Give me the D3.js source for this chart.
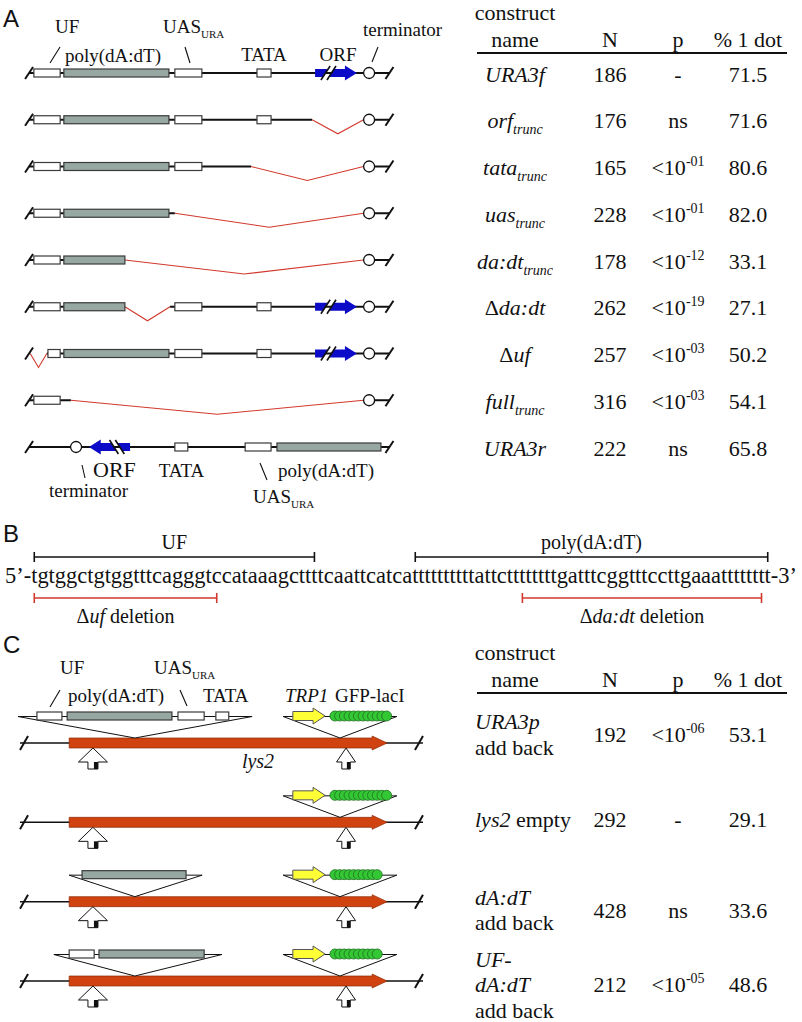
<!DOCTYPE html>
<html><head><meta charset="utf-8">
<script src="https://cdn.jsdelivr.net/npm/d3@7"></script>
<style>
body{margin:0;background:#fff}
svg{display:block}
text{font-family:"Liberation Serif","Times New Roman","DejaVu Serif",serif;fill:#111;white-space:pre}
</style>
</head><body>
<svg id="c" width="802" height="1022"></svg>
<script>
// ===================== DATA =====================
// Panel A table
const namesA = ["URA3f","orf_trunc","tata_trunc","uas_trunc","da:dt_trunc","Δda:dt","Δuf","full_trunc","URA3r"];
const nA     = [186,176,165,228,178,262,257,316,222];
const pA     = ["-","ns","<10^-01","<10^-01","<10^-12","<10^-19","<10^-03","<10^-03","ns"];
const dotA   = [71.5,71.6,80.6,82.0,33.1,27.1,50.2,54.1,65.8];
const colHeaders = ["N","p","% 1 dot"];

// Panel A locus map (0-100 map units along the URA3 locus)
const UF=[2.4,9.5], UF_SHORT=[6.2,9.5], POLY=[10.5,38.9], POLY_SHORT=[10.5,27.0];
const UAS=[40.5,47.8], TATA=[62.7,66.5], ORF=[78.4,89.7];
const TERM=93.0, TERM_IN=91.5, END_L=1.1, END_R=98.5;
const constructsA = [
  {lines:[[END_L,END_R]], dels:[], white:[UF,UAS], grey:[POLY], small:[TATA], orf:[[...ORF,1]], term:TERM},
  {lines:[[END_L,77.6],[TERM,END_R]], dels:[[77.6,TERM_IN]], white:[UF,UAS], grey:[POLY], small:[TATA], orf:[], term:TERM},
  {lines:[[END_L,61.1],[TERM,END_R]], dels:[[61.1,TERM_IN]], white:[UF,UAS], grey:[POLY], small:[], orf:[], term:TERM},
  {lines:[[END_L,40.5],[TERM,END_R]], dels:[[40.5,TERM_IN]], white:[UF], grey:[POLY], small:[], orf:[], term:TERM},
  {lines:[[END_L,27.0],[TERM,END_R]], dels:[[27.0,TERM_IN]], white:[UF], grey:[POLY_SHORT], small:[], orf:[], term:TERM},
  {lines:[[END_L,27.0],[39.2,END_R]], dels:[[27.0,39.2]], white:[UF,UAS], grey:[POLY_SHORT], small:[TATA], orf:[[...ORF,1]], term:TERM},
  {lines:[[5.9,END_R]], dels:[[1.4,5.9]], white:[UF_SHORT,UAS], grey:[POLY], small:[TATA], orf:[[...ORF,1]], term:TERM},
  {lines:[[END_L,12.4],[TERM,END_R]], dels:[[12.4,TERM_IN]], white:[UF], grey:[], small:[], orf:[], term:TERM},
  {lines:[[END_L,END_R]], dels:[], white:[[59.5,66.5]], grey:[[68.1,96.2]], small:[[40.5,44.0]], orf:[[17.3,28.4,-1]], term:13.8}
];

// Panel B
const SEQ = "tgtggctgtggtttcagggtccataaagcttttcaattcatcattttttttttattcttttttttgatttcggtttccttgaaatttttttt";
const seqBrackets = [ {label:"UF", span:[0,31]}, {label:"poly(dA:dT)", span:[43,SEQ.length-1]} ];
const seqDeletions = [ {label:[["Δ",0],["uf",1],[" deletion",0]], span:[0,20]},
                       {label:[["Δ",0],["da:dt",1],[" deletion",0]], span:[59,SEQ.length-2]} ];

// Panel C table
const namesC = ["*URA3p*|add back","*lys2* empty","*dA:dT*|add back","*UF-*|*dA:dT*|add back"];
const nC   = [192,292,428,212];
const pC   = ["<10^-06","-","ns","<10^-05"];
const dotC = [53.1,29.1,33.6,48.6];

// Panel C locus map (0-100 map units along lys2)
const LYS2=[12.2,91.1], SITE_PROM=28.5, SITE_REP=79.4, PROBES=[18.1,80.9];
const insertsC = [
  {tri:[-0.5,57.6], white:[[4.2,10.4],[39.2,45.7]], grey:[[11.7,37.7]], small:[[48.6,51.8]]},
  null,
  {tri:[12.2,45.2], white:[], grey:[[15.4,41.2]], small:[]},
  {tri:[8.4,50.1], white:[[12.2,18.4]], grey:[[19.6,45.7]], small:[]}
];
const REPORTER_TRI=[65.3,93.5], TRP1=[67.7,75.7], LACO_START=76.9;
const lacoCount = [12,12,10,10];

// ===================== DRAWING =====================
const svg = d3.select("#c");
const SERIF = '"Liberation Serif","Times New Roman","DejaVu Serif",serif';
const SANS = '"Liberation Sans",Arial,sans-serif';
const COL = {line:"#111", grey:"#97a7a2", boxStroke:"#3a3a3a", red:"#d2392c", blue:"#0c0cc8",
             orange:"#d0420f", orangeStroke:"#8c2a05", yellow:"#ffff35", green:"#34c734", greenStroke:"#1f6d1f"};

function rich(g, x, y, segs, opt={}) {
  const size = opt.size || 22;
  const t = g.append("text").attr("x",x).attr("y",y).attr("font-size",size)
    .attr("font-family",SERIF).style("font-family",SERIF)
    .attr("text-anchor", opt.anchor || "start");
  let shift = 0;
  segs.forEach(s => {
    const sp = t.append("tspan").text(s.t);
    let target = 0;
    if (s.sub) target = opt.subDy || Math.round(size*0.3);
    if (s.sup) target = -(opt.supDy || Math.round(size*0.4));
    if (target - shift) sp.attr("dy", target - shift);
    shift = target;
    if (s.sub || s.sup) sp.attr("font-size", opt.small || Math.round(size*0.62));
    if (s.i) sp.attr("font-style","italic");
  });
  return t;
}
function pSegs(p){ const m = p.split("^"); return m.length>1 ? [{t:m[0]},{t:m[1],sup:true}] : [{t:p}]; }
function nameSegs(n){
  const segs=[]; if (n[0]==="Δ"){ segs.push({t:"Δ"}); n=n.slice(1); }
  const [main,sub]=n.split("_"); segs.push({t:main,i:true}); if(sub) segs.push({t:sub,i:true,sub:true});
  return segs;
}
function slash(g,x,y,h=6){ g.append("line").attr("x1",x-4).attr("y1",y+h).attr("x2",x+4).attr("y2",y-h)
  .attr("stroke",COL.line).attr("stroke-width",2); }
function leader(g,x1,y1,x2,y2){ g.append("line").attr("x1",x1).attr("y1",y1).attr("x2",x2).attr("y2",y2)
  .attr("stroke",COL.line).attr("stroke-width",1.1); }
function box(g,x0,x1,y,fill,h=4){ g.append("rect").attr("x",x0).attr("y",y-h).attr("width",x1-x0).attr("height",2*h)
  .attr("fill",fill).attr("stroke",COL.boxStroke).attr("stroke-width",1.2); }
function orfGlyph(g,x0,x1,y,dir){
  const W=x1-x0, h=4, H=7.5;
  const P=(dx,dy)=> dir>0 ? [x0+dx,y+dy] : [x1-dx,y+dy];
  const poly1=[P(0,-h),P(W*0.312,-h),P(W*0.188,h),P(0,h)];
  const poly2=[P(W*0.455,-h),P(W*0.714,-h),P(W*0.714,-H),P(W,0),P(W*0.714,H),P(W*0.714,h),P(W*0.331,h)];
  [poly1,poly2].forEach(p=> g.append("polygon").attr("points",p.map(d=>d.join(",")).join(" ")).attr("fill",COL.blue));
  [[W*0.14,W*0.36],[W*0.285,W*0.5]].forEach(([a,b])=>{
    const A=P(a,7), B=P(b,-7);
    g.append("line").attr("x1",A[0]).attr("y1",A[1]).attr("x2",B[0]).attr("y2",B[1]).attr("stroke",COL.line).attr("stroke-width",1.6);
  });
}

// ---------- Panel letters ----------
[["A",27],["B",542],["C",653]].forEach(([l,y])=> svg.append("text").attr("x",3).attr("y",y)
  .attr("font-size",24).attr("font-family",SANS).style("font-family",SANS).text(l));

// ---------- Panel A diagrams ----------
const xA = d3.scaleLinear().domain([0,100]).range([25,395]);
const yA = d3.scaleLinear().domain([0,constructsA.length-1]).range([73,447]);
const gA = svg.append("g");
constructsA.forEach((c,i)=>{
  const y=yA(i), g=gA.append("g");
  c.lines.forEach(([a,b])=> g.append("line").attr("x1",xA(a)).attr("x2",xA(b)).attr("y1",y).attr("y2",y)
    .attr("stroke",COL.line).attr("stroke-width",2));
  c.dels.forEach(([a,b])=> g.append("polyline")
    .attr("points",[[xA(a),y],[(xA(a)+xA(b))/2,y+14],[xA(b),y]].map(d=>d.join(",")).join(" "))
    .attr("fill","none").attr("stroke",COL.red).attr("stroke-width",1.1));
  slash(g,xA(END_L),y); slash(g,xA(END_R),y);
  c.white.forEach(([a,b])=> box(g,xA(a),xA(b),y,"#fff"));
  c.grey.forEach(([a,b])=> box(g,xA(a),xA(b),y,COL.grey));
  c.small.forEach(([a,b])=> box(g,xA(a),xA(b),y,"#fff"));
  c.orf.forEach(([a,b,d])=> orfGlyph(g,xA(a),xA(b),y,d));
  g.append("circle").attr("cx",xA(c.term)).attr("cy",y).attr("r",5.5).attr("fill","#fff")
    .attr("stroke",COL.line).attr("stroke-width",1.3);
});
// labels on top construct
{
  const y=yA(0), g=gA.append("g");
  rich(g,55,y-40,[{t:"UF"}],{size:19});
  leader(g,50,y-10,60,y-26);
  rich(g,65,y-11,[{t:"poly(dA:dT)"}],{size:19});
  rich(g,163,y-40,[{t:"UAS"},{t:"URA",sub:true}],{size:19,small:11,subDy:5});
  leader(g,185,y-26,190,y-10);
  rich(g,(xA(TATA[0])+xA(TATA[1]))/2,y-12,[{t:"TATA"}],{size:19,anchor:"middle"});
  rich(g,(xA(ORF[0])+xA(ORF[1]))/2+2,y-12,[{t:"ORF"}],{size:19,anchor:"middle"});
  rich(g,363,y-37,[{t:"terminator"}],{size:19});
  leader(g,372,y-11,378,y-26);
}
// labels below reversed construct
{
  const y=yA(8), g=gA.append("g");
  leader(g,82,y+18,85,y+31);
  rich(g,93,y+30,[{t:"ORF"}],{size:22});
  rich(g,49,y+50,[{t:"terminator"}],{size:19});
  rich(g,181.5,y+30,[{t:"TATA"}],{size:19,anchor:"middle"});
  leader(g,260,y+16,267,y+33);
  rich(g,278,y+30,[{t:"poly(dA:dT)"}],{size:19});
  rich(g,253,y+56,[{t:"UAS"},{t:"URA",sub:true}],{size:19,small:11,subDy:5});
}

// ---------- Tables ----------
const colX = {name:515, N:610, p:678, dot:748};
function header(g, yTop){
  rich(g,colX.name,yTop,[{t:"construct"}],{anchor:"middle"});
  rich(g,colX.name,yTop+27,[{t:"name"}],{anchor:"middle"});
  colHeaders.forEach((h,k)=> rich(g,[colX.N,colX.p,colX.dot][k],yTop+27,[{t:h}],{anchor:"middle"}));
  g.append("line").attr("x1",477).attr("x2",787).attr("y1",yTop+33).attr("y2",yTop+33)
    .attr("stroke",COL.line).attr("stroke-width",2);
}
const gT = svg.append("g");
header(gT,20);
namesA.forEach((n,i)=>{
  const y=yA(i)+8.5;
  rich(gT,colX.name,y,nameSegs(n),{anchor:"middle",small:14,subDy:6});
  rich(gT,colX.N,y,[{t:String(nA[i])}],{anchor:"middle"});
  rich(gT,colX.p,y,pSegs(pA[i]),{anchor:"middle",small:14,supDy:9});
  rich(gT,colX.dot,y,[{t:dotA[i].toFixed(1)}],{anchor:"middle"});
});

// ---------- Panel B ----------
{
  const g=svg.append("g");
  const seqT=g.append("text").attr("x",5).attr("y",583).attr("font-size",22.4)
    .attr("font-family",SERIF).style("font-family",SERIF)
    .attr("textLength",792).attr("lengthAdjust","spacingAndGlyphs").text("5’-"+SEQ+"-3’");
  const node=seqT.node(), off=3;
  const cx=i=>{ try{ const s=node.getStartPositionOfChar(i+off).x, e=node.getEndPositionOfChar(i+off).x; return (s+e)/2; }
                catch(err){ return 31+i*(739/SEQ.length); } };
  function bracket(a,b,y,color){
    g.append("line").attr("x1",a).attr("x2",b).attr("y1",y).attr("y2",y).attr("stroke",color).attr("stroke-width",1.6);
    [a,b].forEach(x=> g.append("line").attr("x1",x).attr("x2",x).attr("y1",y-5).attr("y2",y+5).attr("stroke",color).attr("stroke-width",1.6));
  }
  seqBrackets.forEach(d=>{ const a=cx(d.span[0]), b=cx(d.span[1]); bracket(a,b,557,COL.line);
    rich(g,(a+b)/2,549,[{t:d.label}],{size:20,anchor:"middle"}); });
  seqDeletions.forEach(d=>{ const a=cx(d.span[0]), b=cx(d.span[1]); bracket(a,b,598,COL.red);
    rich(g,(a+b)/2,623,d.label.map(([t,i])=>({t,i:!!i})),{size:20,anchor:"middle"}); });
}

// ---------- Panel C diagrams ----------
const xC = d3.scaleLinear().domain([0,100]).range([20,423]);
const yC = d3.scaleLinear().domain([0,insertsC.length-1]).range([743,981]);
function triangle(g,a,b,apex,yTop,yApex){
  g.append("polygon").attr("points",[[xC(a),yTop],[xC(b),yTop],[xC(apex),yApex]].map(d=>d.join(",")).join(" "))
    .attr("fill","#fff").attr("stroke",COL.line).attr("stroke-width",1);
}
function upArrow(g,cx,y,hw,sw){
  g.append("polygon").attr("points",[[cx,y+5],[cx+hw,y+19],[cx+sw,y+19],[cx+sw,y+26],[cx-sw,y+26],[cx-sw,y+19],[cx-hw,y+19]]
    .map(d=>d.join(",")).join(" ")).attr("fill","#fff").attr("stroke",COL.line).attr("stroke-width",1);
  g.append("rect").attr("x",cx+sw*0.2).attr("y",y+19).attr("width",sw*0.8).attr("height",7).attr("fill",COL.line);
}
insertsC.forEach((ins,i)=>{
  const y=yC(i), g=svg.append("g"), top=y-26.5;
  g.append("line").attr("x1",xC(0)).attr("x2",xC(100)).attr("y1",y).attr("y2",y).attr("stroke",COL.line).attr("stroke-width",1.5);
  slash(g,xC(1),y,7); slash(g,xC(99),y,7);
  const a=xC(LYS2[0]), b=xC(LYS2[1]), hb=b-15;
  g.append("polygon").attr("points",[[a,y-5],[hb,y-5],[hb,y-7],[b,y],[hb,y+7],[hb,y+5],[a,y+5]].map(d=>d.join(",")).join(" "))
    .attr("fill",COL.orange).attr("stroke",COL.orangeStroke).attr("stroke-width",0.7);
  if (ins){
    triangle(g,ins.tri[0],ins.tri[1],SITE_PROM,top,y-5);
    ins.white.forEach(([p,q])=> box(g,xC(p),xC(q),top-0.5,"#fff"));
    ins.grey.forEach(([p,q])=> box(g,xC(p),xC(q),top-0.5,COL.grey));
    ins.small.forEach(([p,q])=> box(g,xC(p),xC(q),top-0.5,"#fff"));
  }
  triangle(g,REPORTER_TRI[0],REPORTER_TRI[1],SITE_REP,top,y-5);
  const ya=top-0.5, t0=xC(TRP1[0]), t1=xC(TRP1[1]), th=t1-12;
  g.append("polygon").attr("points",[[t0,ya-4.5],[th,ya-4.5],[th,ya-8],[t1,ya],[th,ya+8],[th,ya+4.5],[t0,ya+4.5]].map(d=>d.join(",")).join(" "))
    .attr("fill",COL.yellow).attr("stroke","#555").attr("stroke-width",1);
  d3.range(lacoCount[i]).forEach(k=> g.append("circle").attr("cx",xC(LACO_START)+5+k*4.7).attr("cy",ya).attr("r",5)
    .attr("fill",COL.green).attr("stroke",COL.greenStroke).attr("stroke-width",0.8));
  upArrow(g,xC(PROBES[0]),y,14.5,5);
  upArrow(g,xC(PROBES[1]),y,9.5,4.2);
});
{
  const g=svg.append("g"), y=yC(0);
  rich(g,60,674,[{t:"UF"}],{size:19});
  leader(g,50,707,60,690);
  rich(g,68,702,[{t:"poly(dA:dT)"}],{size:19});
  rich(g,154,674,[{t:"UAS"},{t:"URA",sub:true}],{size:19,small:11,subDy:5});
  leader(g,180,690,187,706);
  rich(g,203,702,[{t:"TATA"}],{size:19});
  rich(g,285,702,[{t:"TRP1",i:true}],{size:19});
  rich(g,335,702,[{t:"GFP-lacI"}],{size:19});
  rich(g,258,y+25,[{t:"lys2",i:true}],{size:20,anchor:"middle"});
}
// table C
{
  const g=svg.append("g");
  header(g,660);
  const valOff=[-1,5,16,11];
  namesC.forEach((n,i)=>{
    const yv=yC(i)+valOff[i];
    const lines=n.split("|");
    lines.forEach((ln,k)=>{
      const parts=ln.split("*"), sg=[];
      parts.forEach((s,j)=>{ if(s.length) sg.push({t:s,i:j%2===1}); });
      rich(g,475,yv+(k-(lines.length-1)/2)*25.5,sg,{});
    });
    rich(g,colX.N,yv,[{t:String(nC[i])}],{anchor:"middle"});
    rich(g,colX.p,yv,pSegs(pC[i]),{anchor:"middle",small:14,supDy:9});
    rich(g,colX.dot,yv,[{t:dotC[i].toFixed(1)}],{anchor:"middle"});
  });
}
</script>
</body></html>
